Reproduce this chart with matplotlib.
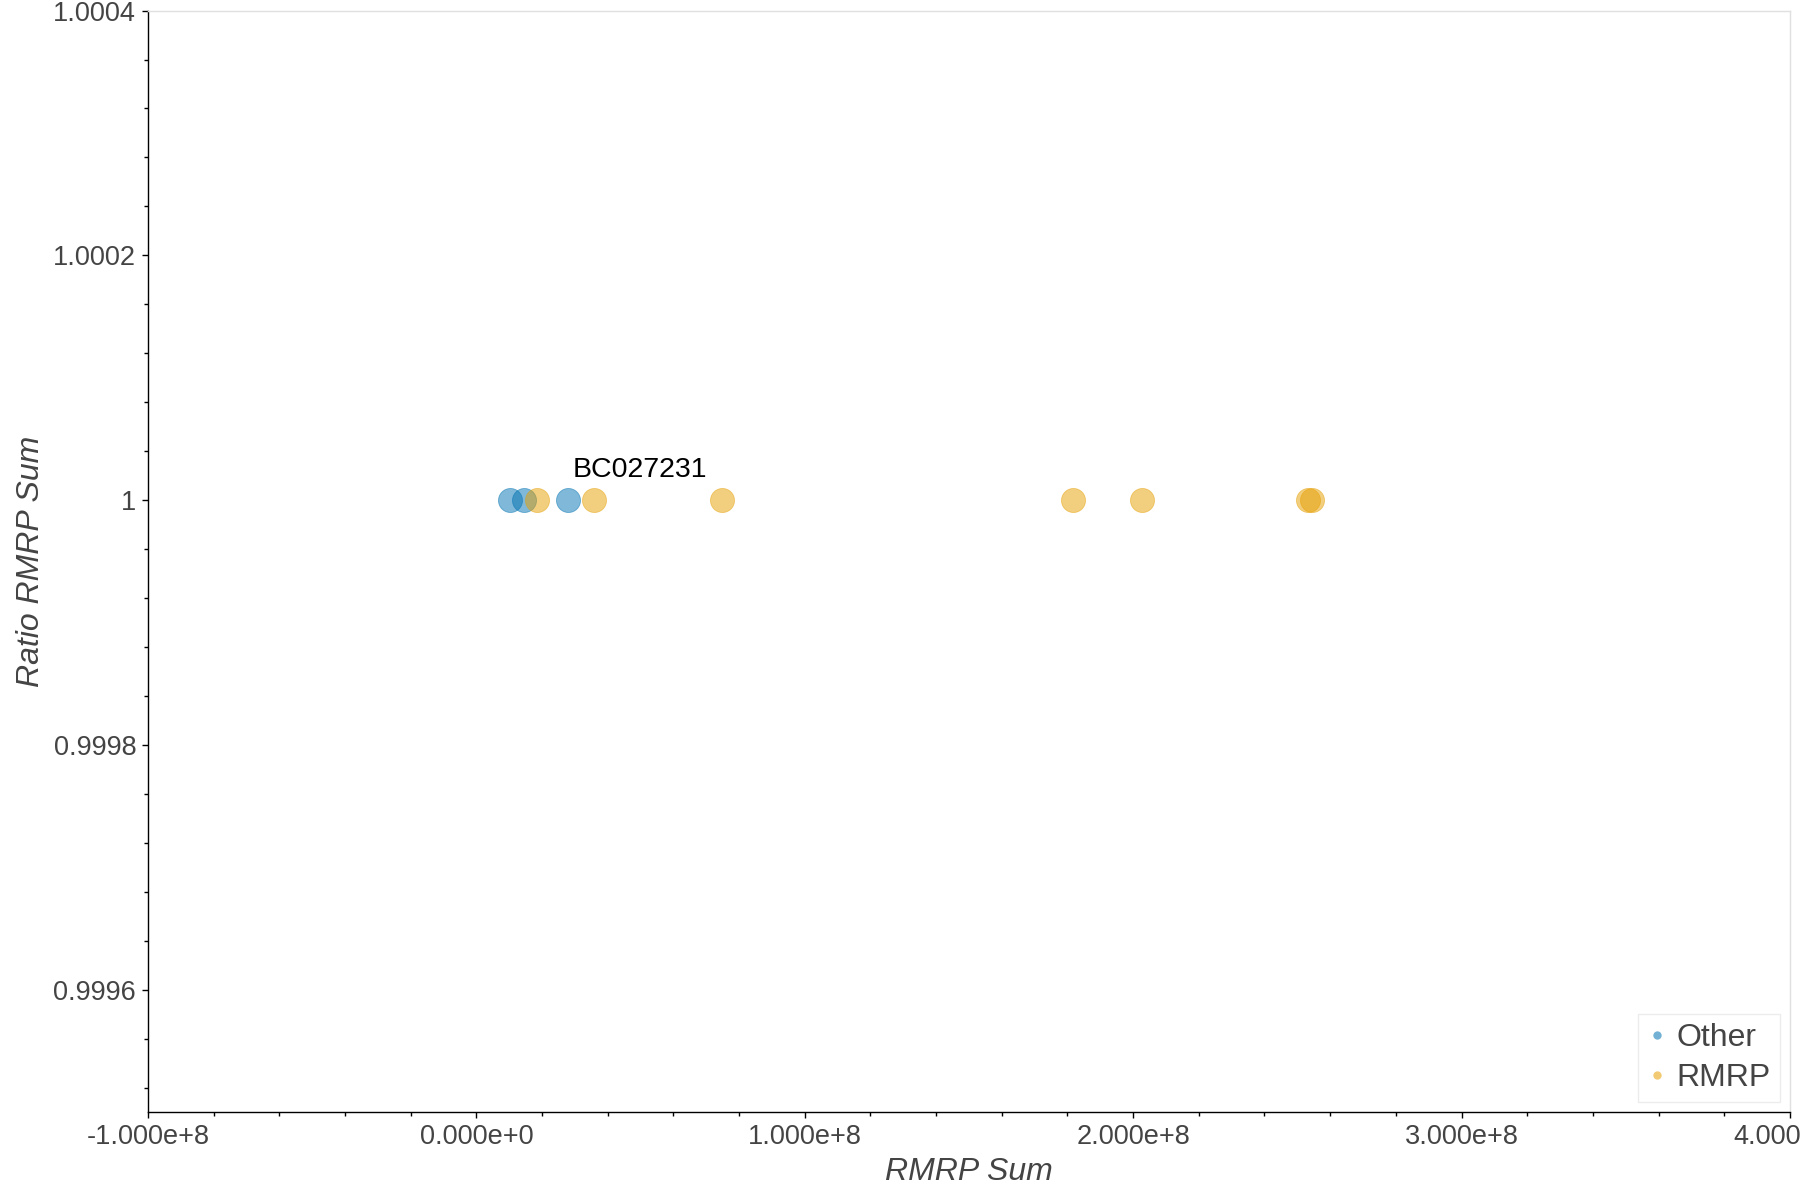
import matplotlib
matplotlib.use("Agg")
import matplotlib.pyplot as plt
from matplotlib.ticker import MultipleLocator, FuncFormatter, AutoMinorLocator
from matplotlib.lines import Line2D

plt.rcParams['font.family'] = ['Liberation Sans', 'DejaVu Sans']

# Data
other_x = [1.03e7, 1.44e7, 2.80e7]
other_y = [1.0, 1.0, 1.0]
rmrp_x = [1.845e7, 3.59e7, 7.47e7, 1.818e8, 2.026e8, 2.533e8, 2.545e8]
rmrp_y = [1.0, 1.0, 1.0, 1.0, 1.0, 1.0, 1.0]
series_names = ["Other", "RMRP"]
series_colors = ["#0072B2", "#E69F00"]
label_text = "BC027231"
label_x = 2.80e7
label_y = 1.0

fig = plt.figure(figsize=(18, 12), dpi=100)
ax = fig.add_axes([0.0822, 0.0733, 0.9122, 0.9179])

for xs, ys, c in zip([other_x, rmrp_x], [other_y, rmrp_y], series_colors):
    ax.scatter(xs, ys, s=300, color=c, alpha=0.5, edgecolors=c, linewidths=0.6, zorder=3)

ax.annotate(label_text, xy=(label_x, label_y), xytext=(2.9, 16.6), textcoords='offset points',
            ha='left', va='baseline', fontsize=20.5, color='black')

ax.set_xlim(-1e8, 4e8)
ax.set_ylim(0.9995, 1.0004)
ax.xaxis.set_major_locator(MultipleLocator(1e8))
ax.xaxis.set_minor_locator(AutoMinorLocator(5))
ax.yaxis.set_major_locator(MultipleLocator(0.0002))
ax.yaxis.set_minor_locator(AutoMinorLocator(5))

def xfmt(v, pos):
    if abs(v) < 1:
        return "0.000e+0"
    s = "%.3e" % v
    mant, exp = s.split("e")
    e = int(exp)
    return "%se%s%d" % (mant, "+" if e >= 0 else "-", abs(e))

def yfmt(v, pos):
    return "%g" % round(v, 6)

ax.xaxis.set_major_formatter(FuncFormatter(xfmt))
ax.yaxis.set_major_formatter(FuncFormatter(yfmt))

ax.tick_params(which='major', direction='out', length=4.5, width=1.0, color='black',
               labelsize=19.5, labelcolor='#444444', pad=4)
ax.tick_params(which='minor', direction='out', length=3, width=1.0, color='black')

for sp in ['left', 'bottom']:
    ax.spines[sp].set_color('black')
    ax.spines[sp].set_linewidth(1.0)
for sp in ['top', 'right']:
    ax.spines[sp].set_color('#e0e0e0')
    ax.spines[sp].set_linewidth(1.0)

ax.set_xlabel("RMRP Sum", fontsize=23, style='italic', color='#444444', labelpad=5)
ax.set_ylabel("Ratio RMRP Sum", fontsize=23, style='italic', color='#444444', labelpad=5)

handles = [Line2D([0], [0], marker='o', linestyle='none', markersize=6, color=c, alpha=0.55,
                  markeredgewidth=0) for c in series_colors]
leg = ax.legend(handles, series_names, loc='lower right', fontsize=23, frameon=True,
                fancybox=False, borderaxespad=0.3, handlelength=0.6, handletextpad=0.3,
                borderpad=0.3, labelspacing=0.3, labelcolor='#444444')
leg.get_frame().set_edgecolor('#e8e8e8')
leg.get_frame().set_linewidth(1.0)

fig.savefig("out.png", dpi=100, facecolor='white')
